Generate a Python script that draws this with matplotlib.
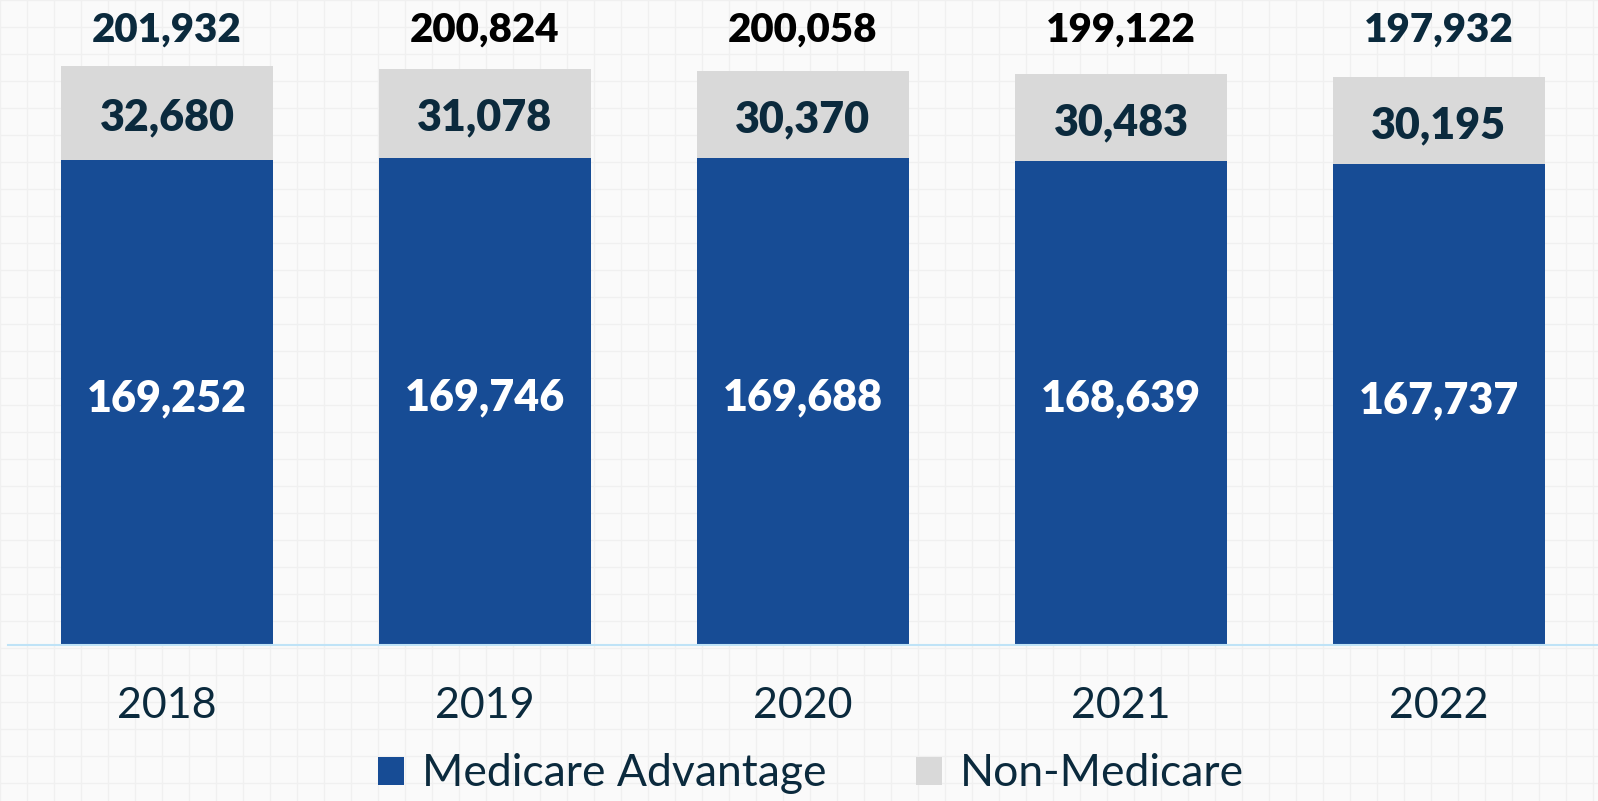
import numpy as np
import matplotlib
matplotlib.use("Agg")
import matplotlib.pyplot as plt
import matplotlib.transforms as mtransforms

years = ["2018", "2019", "2020", "2021", "2022"]
medicare_adv = [169252, 169746, 169688, 168639, 167737]
non_medicare = [32680, 31078, 30370, 30483, 30195]
totals = [201932, 200824, 200058, 199122, 197932]
total_colors = ["#0b2a3d", "#000000", "#000000", "#000000", "#0b2a3d"]

blue = "#174c95"
grey = "#d9d9d9"
navy = "#0b2a3d"

plt.rcParams['font.family'] = ['Lato', 'DejaVu Sans']

fig = plt.figure(figsize=(15.98, 8.01), dpi=100)
fig.patch.set_facecolor("#fafafa")

# faint graph-paper background
bg = fig.add_axes([0, 0, 1, 1], zorder=0)
bg.set_xlim(0, 1598)
bg.set_ylim(801, 0)
bg.set_xticks(np.arange(0, 1598, 27))
bg.set_yticks(np.arange(0, 801, 27))
bg.grid(True, color="#f0f0f0", lw=1.0)
bg.tick_params(length=0, labelbottom=False, labelleft=False)
for s in bg.spines.values():
    s.set_visible(False)
bg.set_facecolor("#fafafa")

ax = fig.add_axes([0.005, 0.1948, 0.995, 0.7877], zorder=1)
ax.patch.set_alpha(0)
x = np.arange(len(years))
w = 0.665
ax.bar(x, medicare_adv, w, color=blue, label="Medicare Advantage")
ax.bar(x, non_medicare, w, bottom=medicare_adv, color=grey, label="Non-Medicare")
ax.set_xlim(-0.5, 4.5)
ax.set_ylim(0, 220000)

for i in range(len(years)):
    ax.text(x[i], medicare_adv[i] / 2 + 1500, f"{medicare_adv[i]:,}", ha="center", va="center",
            color="white", fontsize=31, fontweight="heavy")
    ax.text(x[i], medicare_adv[i] + non_medicare[i] / 2 - 1500, f"{non_medicare[i]:,}", ha="center",
            va="center", color=navy, fontsize=31, fontweight="heavy")

trans = mtransforms.blended_transform_factory(ax.transData, fig.transFigure)
for i in range(len(years)):
    ax.text(x[i], 1 - 30 / 801, f"{totals[i]:,}", ha="center", va="center",
            color=total_colors[i], fontsize=29, fontweight="heavy", transform=trans)

ax.set_xticks(x)
ax.set_xticklabels(years, fontsize=31, color=navy)
ax.tick_params(axis="x", length=0, pad=30)
ax.set_yticks([])
for s in ["top", "right", "left"]:
    ax.spines[s].set_visible(False)
ax.spines["bottom"].set_color("#bfe3f7")
ax.spines["bottom"].set_linewidth(1.5)

leg = fig.legend(loc="center", bbox_to_anchor=(811 / 1598, 1 - 774 / 801), ncol=2,
                 frameon=False, fontsize=32, handlelength=0.6, handleheight=0.6,
                 handletextpad=0.4, columnspacing=2.0)
for t in leg.get_texts():
    t.set_color(navy)

fig.savefig("out.png", dpi=100, facecolor=fig.get_facecolor())
